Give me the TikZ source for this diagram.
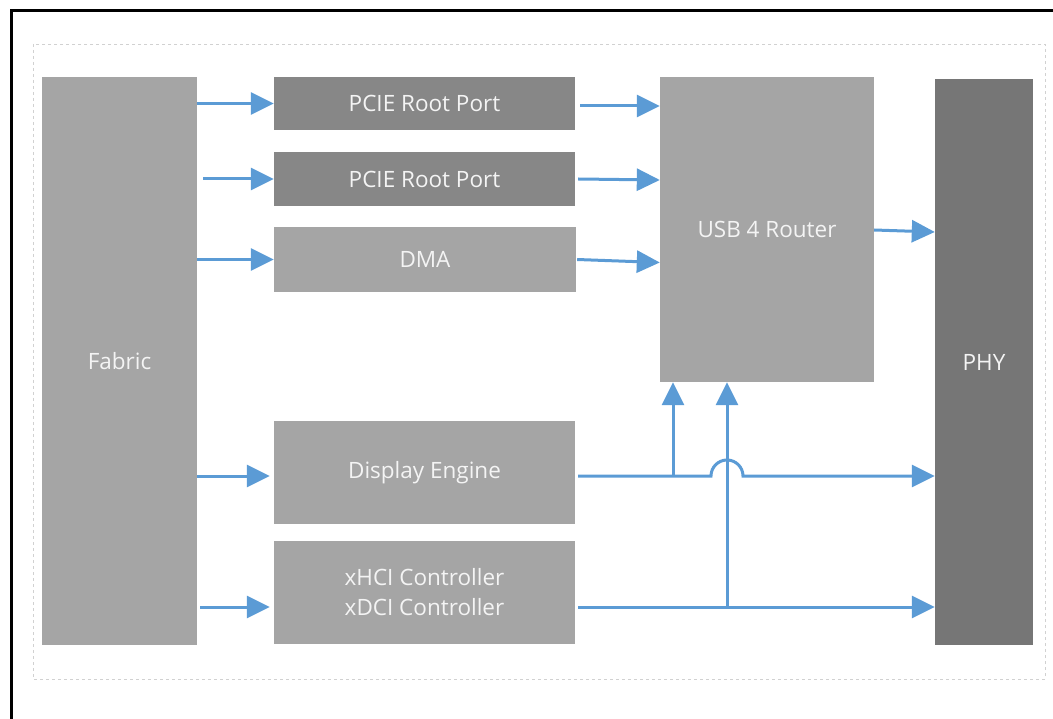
\documentclass[tikz,border=0pt]{standalone}
\usepackage{fontspec}
\setmainfont{Open Sans}
\usetikzlibrary{arrows.meta}
\definecolor{arrowblue}{HTML}{5B9BD5}
\definecolor{boxgray}{HTML}{A5A5A5}
\definecolor{portgray}{HTML}{878787}
\definecolor{phygray}{HTML}{767676}
\definecolor{textwhite}{HTML}{F4F4F4}
\tikzset{
  blk/.style={fill=boxgray, draw=none, inner sep=0pt, text=textwhite,
    font=\fontsize{22.5}{30}\selectfont, align=center},
  conn/.style={draw=arrowblue, line width=3pt},
  arr/.style={conn, -{Triangle[length=23pt,width=22pt]}},
}
\begin{document}
\begin{tikzpicture}[x=1pt,y=-1pt]
\useasboundingbox (0,0) rectangle (1053,719);
\clip (0,0) rectangle (1053,719);
% outer frame (cropped at right and bottom)
\draw[line width=3pt, black] (11,760) -- (11,11) -- (1080,11);
% dashed frame
\draw[black!18, line width=0.8pt, dashed] (33,44) rectangle (1045,679);
% blocks
\node[blk, minimum width=155pt, minimum height=568pt] (fab) at (119.5,361) {Fabric};
\node[blk, fill=portgray, minimum width=301pt, minimum height=53pt] (p1) at (424.5,103.5) {PCIE Root Port};
\node[blk, fill=portgray, minimum width=301pt, minimum height=54pt] (p2) at (424.5,179) {PCIE Root Port};
\node[blk, minimum width=302pt, minimum height=65pt] (dma) at (425,259.5) {DMA};
\node[blk, minimum width=301pt, minimum height=103pt] (disp) at (424.5,472.5) {Display Engine};
\node[blk, minimum width=301pt, minimum height=103pt] (xhci) at (424.5,592.5) {xHCI Controller\\xDCI Controller};
\node[blk, minimum width=214pt, minimum height=305pt] (usb) at (767,229.5) {USB 4 Router};
\node[blk, fill=phygray, minimum width=98pt, minimum height=566pt] (phy) at (984,362) {PHY};
% fabric to blocks
\draw[arr] (fab.east |- p1.west) -- (p1.west);
\draw[arr] ([xshift=6pt]fab.east |- p2.west) -- (p2.west);
\draw[arr] (fab.east |- dma.west) -- (dma.west);
\draw[arr] ([yshift=-3.5pt]fab.east |- disp.west) -- ([xshift=-4pt,yshift=-3.5pt]disp.west);
\draw[arr] ([xshift=3pt,yshift=-14.5pt]fab.east |- xhci.west) -- ([xshift=-4pt,yshift=-14.5pt]xhci.west);
% blocks to USB router
\draw[arr] ([xshift=5pt,yshift=-2.5pt]p1.east) -- ([yshift=-2.5pt]p1.east -| usb.west);
\draw[arr] ([xshift=3pt]p2.east) -- ([yshift=-1pt]p2.east -| usb.west);
\draw[arr] ([xshift=1pt]dma.east) -- ([yshift=-3pt]dma.east -| usb.west);
\draw[arr] ([yshift=-0.5pt]usb.east) -- ([yshift=-2.5pt]usb.east -| phy.west);
% display engine / xHCI to PHY with branches
\coordinate (d0) at ([xshift=3pt,yshift=-3.5pt]disp.east);
\coordinate (j1) at (673,476);
\coordinate (x0) at ([xshift=3pt,yshift=-14.5pt]xhci.east);
\coordinate (j2) at (727,607);
\draw[arr] (d0) -- (711,476) arc (180:360:16) -- (d0 -| phy.west);
\draw[arr] (x0) -- (x0 -| phy.west);
\draw[arr] (j1) -- (j1 |- usb.south);
\draw[arr] (j2) -- (j2 |- usb.south);
\end{tikzpicture}
\end{document}
